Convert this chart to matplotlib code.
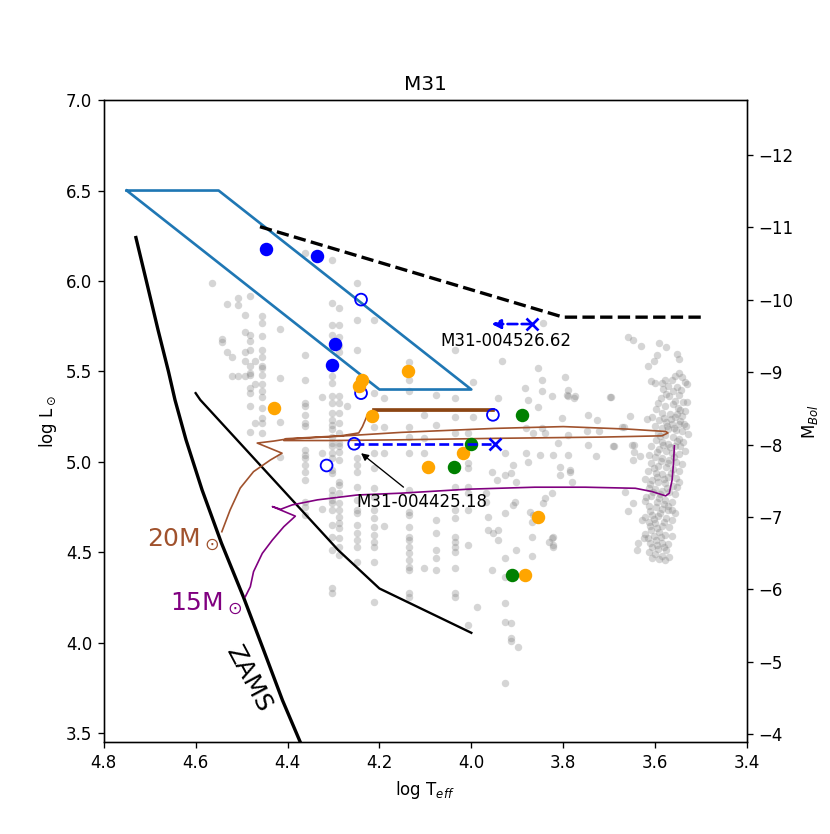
import matplotlib
matplotlib.use('Agg')
import matplotlib.pyplot as plt

# --- data ---
hd_T = [4.46, 3.8, 3.5]
hd_L = [6.3, 5.8, 5.8]

box_T = [4.75, 4.55, 4.0, 4.2, 4.75]
box_L = [6.5, 6.5, 5.4, 5.4, 6.5]

zams_T = [4.730, 4.707, 4.682, 4.659, 4.645, 4.621, 4.586, 4.544, 4.496, 4.452, 4.411, 4.372]
zams_L = [6.240, 5.997, 5.731, 5.498, 5.343, 5.122, 4.845, 4.552, 4.253, 3.959, 3.682, 3.449]

tams_T = [4.60, 4.59, 4.29, 4.20, 4.0]
tams_L = [5.38, 5.343, 4.513, 4.30, 4.055]

track20_T = [4.543, 4.525, 4.503, 4.474, 4.437, 4.412, 4.466, 4.43, 4.405, 4.30, 4.153,
             3.95, 3.80, 3.658, 3.577, 3.572, 3.585, 3.716, 3.95, 4.153, 4.30, 4.408,
             4.404, 4.284, 4.245, 4.237, 4.226, 4.211, 4.10, 3.953]
track20_L = [4.614, 4.734, 4.855, 4.946, 5.011, 5.048, 5.104, 5.115, 5.125, 5.14, 5.163,
             5.185, 5.195, 5.181, 5.168, 5.16, 5.144, 5.137, 5.13, 5.122, 5.118, 5.118,
             5.128, 5.144, 5.16, 5.195, 5.26, 5.284, 5.284, 5.284]

track15_T = [4.492, 4.481, 4.474, 4.455, 4.433, 4.408, 4.383, 4.433, 4.415, 4.39, 4.335,
             4.248, 4.153, 4.007, 3.862, 3.752, 3.643, 3.607, 3.577, 3.569, 3.563, 3.560, 3.558]
track15_L = [4.254, 4.31, 4.393, 4.494, 4.568, 4.642, 4.70, 4.753, 4.738, 4.762, 4.79,
             4.817, 4.827, 4.849, 4.86, 4.86, 4.854, 4.836, 4.812, 4.827, 4.90, 4.993, 5.089]

# background M31 sample (hot stars, by temperature column)
gray_hot = {
    4.565: [5.99],
    4.543: [5.68, 5.665],
    4.532: [5.87, 5.61],
    4.520: [5.58, 5.476],
    4.508: [5.905, 5.865, 5.476],
    4.493: [5.81, 5.72, 5.61, 5.555, 5.476],
    4.482: [5.915, 5.70, 5.67, 5.62, 5.53, 5.49, 5.48, 5.41, 5.38, 5.31, 5.165],
    4.470: [5.555, 5.43, 5.214],
    4.455: [5.805, 5.77, 5.694, 5.62, 5.58, 5.53, 5.52, 5.48, 5.43, 5.39, 5.36, 5.30, 5.24, 5.215, 5.16],
    4.417: [5.735, 5.463, 5.218, 5.026],
    4.361: [6.156, 5.592, 5.455, 5.325, 5.31, 5.26, 5.214, 5.20, 5.067, 5.04, 5.02, 4.983,
            4.946, 4.90, 4.78, 4.752, 4.706],
    4.324: [5.36, 5.048, 4.74],
    4.304: [6.115, 5.879, 5.759, 5.703, 5.472, 5.436, 5.362, 5.325, 5.27, 5.233, 5.205,
            5.181, 5.14, 5.104, 5.085, 5.048, 5.02, 4.956, 4.937, 4.845, 4.817, 4.79,
            4.771, 4.734, 4.651, 4.587, 4.513, 4.30, 4.273],
    4.288: [5.851, 5.759, 5.69, 5.643, 5.61, 5.362, 5.325, 5.27, 5.215, 5.16, 5.104, 5.085,
            5.057, 5.011, 4.891, 4.873, 4.827, 4.771, 4.734, 4.697, 4.661, 4.633, 4.578,
            4.531, 4.485],
    4.270: [5.307],
    4.248: [5.99, 5.787, 5.62, 5.02, 4.983, 4.946, 4.863, 4.79, 4.734, 4.716, 4.651,
            4.605, 4.568, 4.531, 4.448],
    4.211: [5.787, 5.38, 5.195, 5.048, 4.965, 4.855, 4.808, 4.734, 4.688, 4.642, 4.596,
            4.559, 4.531, 4.448, 4.223],
    4.189: [5.353, 5.195, 5.048, 4.646],
    4.135: [5.55, 5.454, 5.39, 5.195, 5.14, 5.048, 4.845, 4.725, 4.706, 4.642, 4.587,
            4.568, 4.531, 4.494, 4.457, 4.42, 4.402, 4.273, 4.254],
    4.102: [5.26, 5.13, 5.048, 4.411],
    4.077: [5.371, 5.205, 4.679, 4.609, 4.513, 4.467, 4.40],
    4.036: [5.616, 5.353, 5.25, 5.159, 4.863, 4.734, 4.688, 4.587, 4.559, 4.531, 4.503,
            4.411, 4.273, 4.254],
    4.007: [5.159, 4.993, 4.965, 4.863, 4.827, 4.734, 4.54, 4.097],
    3.996: [5.439, 5.25],
}

gray_yellow = [
    (3.987, 4.20), (3.967, 4.827), (3.967, 4.78), (3.964, 4.697), (3.964, 4.623),
    (3.953, 4.605), (3.942, 4.623), (3.942, 4.568), (3.956, 4.402), (3.956, 4.946),
    (3.945, 4.90), (3.927, 4.928), (3.913, 4.937), (3.902, 4.891), (3.927, 5.048),
    (3.88, 5.048), (3.876, 5.002), (3.851, 5.039), (3.822, 5.039), (3.789, 5.039),
    (3.909, 4.983), (3.905, 4.78), (3.909, 4.762), (3.927, 4.716), (3.873, 4.725),
    (3.869, 4.67), (3.843, 4.771), (3.825, 4.827), (3.807, 4.974), (3.807, 4.928),
    (3.869, 4.587), (3.832, 4.559), (3.822, 4.587), (3.822, 4.531), (3.902, 4.513),
    (3.927, 4.467), (3.869, 4.48), (3.927, 4.365), (3.927, 4.221), (3.927, 4.116),
    (3.913, 4.11), (3.913, 4.024), (3.913, 4.009), (3.898, 3.974), (3.927, 3.775),
    (3.934, 5.555), (3.942, 5.353), (3.854, 5.519), (3.847, 5.454), (3.847, 5.39),
    (3.854, 5.306), (3.843, 5.768), (3.883, 5.408), (3.876, 5.343), (3.847, 5.187),
    (3.84, 5.159), (3.88, 5.19), (3.865, 5.16), (3.796, 5.469), (3.774, 5.362),
    (3.791, 5.371), (3.745, 5.26), (3.727, 5.232), (3.749, 5.168), (3.723, 5.168),
    (3.698, 5.358), (3.825, 5.362), (3.803, 5.242), (3.789, 5.149), (3.811, 5.104),
    (3.745, 5.094), (3.728, 5.035), (3.692, 5.09), (3.781, 4.891), (3.785, 4.956),
    (3.84, 4.80), (3.865, 4.706), (3.825, 4.578), (3.822, 4.54), (3.789, 5.395),
    (3.789, 5.365), (3.776, 5.352), (3.695, 5.356), (3.654, 5.255), (3.672, 5.192),
    (3.690, 5.089), (3.647, 5.094), (3.647, 5.057), (3.649, 5.011), (3.632, 5.030),
    (3.785, 4.946), (3.665, 4.836), (3.658, 4.731), (3.649, 4.771), (3.628, 4.679),
    (3.625, 4.577), (3.637, 4.553), (3.639, 4.513), (3.668, 5.195), (3.65, 5.094),
]

gray_red = [
    (3.658, 5.690), (3.649, 5.671), (3.631, 5.642), (3.592, 5.657), (3.577, 5.635),
    (3.552, 5.596), (3.547, 5.569), (3.596, 5.592), (3.603, 5.556), (3.615, 5.528),
    (3.563, 5.45), (3.556, 5.476), (3.549, 5.492), (3.541, 5.468), (3.536, 5.44),
    (3.531, 5.428), (3.578, 5.452), (3.586, 5.438), (3.601, 5.436), (3.609, 5.446),
    (3.571, 5.418), (3.553, 5.414), (3.543, 5.399), (3.583, 5.401), (3.576, 5.377),
    (3.561, 5.391), (3.549, 5.372), (3.569, 5.362), (3.588, 5.352), (3.557, 5.339),
    (3.539, 5.331), (3.594, 5.328), (3.562, 5.322), (3.579, 5.309), (3.551, 5.297),
    (3.546, 5.286), (3.536, 5.279), (3.598, 5.291), (3.584, 5.268), (3.568, 5.262),
    (3.557, 5.249), (3.542, 5.253), (3.606, 5.248), (3.617, 5.238), (3.591, 5.232),
    (3.576, 5.221), (3.564, 5.212), (3.547, 5.208), (3.533, 5.198), (3.601, 5.201),
    (3.586, 5.188), (3.571, 5.181), (3.555, 5.174), (3.542, 5.168), (3.528, 5.152),
    (3.593, 5.162), (3.578, 5.148), (3.562, 5.139), (3.549, 5.128), (3.540, 5.112),
    (3.598, 5.121), (3.584, 5.108), (3.571, 5.101), (3.557, 5.089), (3.608, 5.087),
    (3.591, 5.072), (3.576, 5.062), (3.564, 5.048), (3.547, 5.041), (3.535, 5.062),
    (3.614, 5.038), (3.600, 5.028), (3.586, 5.021), (3.569, 5.011), (3.555, 5.002),
    (3.542, 4.988), (3.608, 4.991), (3.593, 4.978), (3.576, 4.972), (3.562, 4.958),
    (3.549, 4.951), (3.616, 4.948), (3.598, 4.938), (3.586, 4.931), (3.571, 4.918),
    (3.555, 4.912), (3.623, 4.908), (3.606, 4.902), (3.593, 4.888), (3.578, 4.881),
    (3.562, 4.869), (3.549, 4.887), (3.614, 4.858), (3.601, 4.852), (3.584, 4.838),
    (3.569, 4.831), (3.557, 4.822), (3.608, 4.812), (3.591, 4.798), (3.578, 4.791),
    (3.564, 4.778), (3.621, 4.782), (3.614, 4.758), (3.598, 4.751), (3.586, 4.738),
    (3.571, 4.732), (3.557, 4.718), (3.606, 4.708), (3.593, 4.701), (3.576, 4.688),
    (3.563, 4.679), (3.623, 4.698), (3.614, 4.668), (3.601, 4.661), (3.584, 4.648),
    (3.569, 4.641), (3.608, 4.621), (3.591, 4.612), (3.578, 4.598), (3.564, 4.591),
    (3.621, 4.601), (3.616, 4.578), (3.598, 4.566), (3.586, 4.553), (3.571, 4.548),
    (3.606, 4.532), (3.593, 4.518), (3.576, 4.511), (3.614, 4.502), (3.601, 4.489),
    (3.584, 4.481), (3.569, 4.472), (3.591, 4.461), (3.578, 4.456), (3.607, 4.466),
    (3.552, 5.262), (3.566, 5.236), (3.581, 5.244), (3.546, 5.224), (3.559, 5.186),
    (3.574, 5.196), (3.589, 5.141), (3.553, 5.118), (3.567, 5.083), (3.582, 5.091),
    (3.596, 5.054), (3.559, 5.028), (3.573, 4.996), (3.588, 5.006), (3.603, 4.967),
    (3.566, 4.941), (3.581, 4.908), (3.596, 4.917), (3.611, 4.876), (3.574, 4.856),
    (3.589, 4.822), (3.604, 4.833), (3.619, 4.806), (3.581, 4.768), (3.596, 4.777),
    (3.611, 4.728), (3.589, 4.718), (3.603, 4.686), (3.581, 4.666), (3.596, 4.632),
    (3.611, 4.644), (3.588, 4.583), (3.603, 4.591), (3.596, 4.541), (3.581, 4.527),
    (3.611, 4.552), (3.563, 4.735), (3.571, 4.758), (3.552, 4.86), (3.545, 5.09),
    (3.538, 5.21), (3.531, 5.33),
]

blue_full_T = [4.446, 4.335, 4.297, 4.304]
blue_full_L = [6.178, 6.137, 5.653, 5.533]
blue_open_T = [4.240, 4.240, 3.953, 4.255, 4.315]
blue_open_L = [5.897, 5.38, 5.26, 5.10, 4.98]
orange_T = [4.137, 4.237, 4.244, 4.430, 4.217, 4.095, 4.018, 3.854, 3.883]
orange_L = [5.50, 5.454, 5.417, 5.297, 5.255, 4.974, 5.051, 4.694, 4.374]
green_T = [3.889, 4.0, 4.038, 3.911]
green_L = [5.26, 5.10, 4.974, 4.374]

# two stars with moves in temperature
var1_T = [3.869, 3.956]
var1_L = [5.762, 5.762]
var2_T = [4.255, 3.949]
var2_L = [5.10, 5.10]

# --- plotting ---
fig = plt.figure(figsize=(830 / 120, 834 / 120), dpi=120)
ax = fig.add_subplot(111)

gT = [t for t, Ls in gray_hot.items() for _ in Ls] + [p[0] for p in gray_yellow] + [p[0] for p in gray_red]
gL = [l for Ls in gray_hot.values() for l in Ls] + [p[1] for p in gray_yellow] + [p[1] for p in gray_red]
ax.scatter(gT, gL, s=20, color='gray', alpha=0.33, linewidths=0, zorder=1)

ax.plot(box_T, box_L, color='#1f77b4', lw=1.6, zorder=3)
ax.plot(hd_T, hd_L, 'k--', lw=2, zorder=3)
ax.plot(zams_T, zams_L, 'k-', lw=2, zorder=3)
ax.plot(tams_T, tams_L, 'k-', lw=1.4, zorder=3)

ax.plot(track20_T, track20_L, color='#a0522d', lw=1.0, zorder=3)
ax.plot(track20_T[-3:], track20_L[-3:], color='#8b4513', lw=2.2, zorder=3)
ax.plot(track15_T, track15_L, color='purple', lw=1.0, zorder=3)

ax.scatter(blue_full_T, blue_full_L, s=50, color='blue', zorder=5)
ax.scatter(blue_open_T, blue_open_L, s=50, facecolors='none', edgecolors='blue', linewidths=1.1, zorder=5)
ax.scatter(orange_T, orange_L, s=50, color='orange', zorder=5)
ax.scatter(green_T, green_L, s=50, color='green', zorder=5)

ax.plot(var1_T[0], var1_L[0], 'bx', ms=7, mew=1.6, zorder=6)
ax.annotate('', xy=(var1_T[1], var1_L[1]), xytext=(var1_T[0], var1_L[0]),
            arrowprops=dict(arrowstyle='-|>', color='blue', ls='--', lw=1.6,
                            mutation_scale=11, shrinkA=0, shrinkB=0), zorder=6)
ax.plot(var2_T, var2_L, 'b--', lw=1.6, zorder=6)
ax.plot(var2_T[1], var2_L[1], 'bx', ms=7, mew=1.6, zorder=6)

ax.text(4.067, 5.64, 'M31-004526.62', fontsize=10)
ax.annotate('M31-004425.18', xy=(4.24, 5.048), xytext=(4.251, 4.753), fontsize=10,
            arrowprops=dict(arrowstyle='-|>', color='black', lw=0.8, mutation_scale=9,
                            shrinkA=2, shrinkB=0))

ax.text(4.706, 4.531, r'20M$_\odot$', color='#a0522d', fontsize=15)
ax.text(4.656, 4.175, r'15M$_\odot$', color='purple', fontsize=15)
ax.text(4.485, 3.80, 'ZAMS', fontsize=15, rotation=-62, ha='center', va='center',
        rotation_mode='anchor')

ax.set_xlim(4.8, 3.4)
ax.set_ylim(3.45, 7.0)
ax.set_xlabel(r'log T$_{eff}$')
ax.set_ylabel(r'log L$_\odot$')
ax.set_title('M31')

ax2 = ax.twinx()
ax2.set_ylim(4.74 - 2.5 * 3.45, 4.74 - 2.5 * 7.0)
ax2.set_ylabel(r'M$_{Bol}$')

fig.savefig('out.png', dpi=120)
